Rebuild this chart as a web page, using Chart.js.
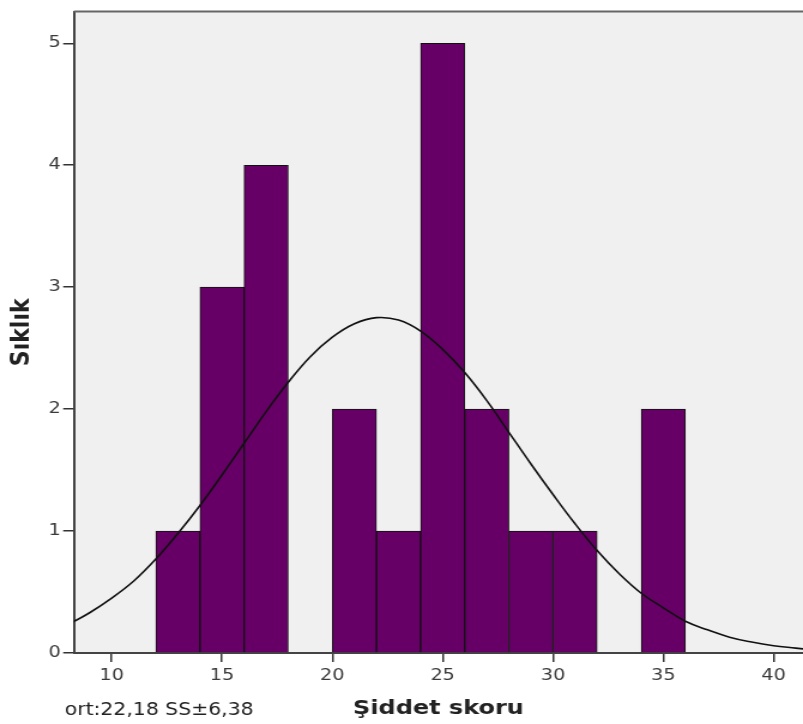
<!DOCTYPE html>
<html>
<head>
<meta charset="utf-8">
<script src="https://cdn.jsdelivr.net/npm/chart.js@4/dist/chart.umd.min.js"></script>
<style>
  html, body { margin: 0; padding: 0; background: #fff; overflow: hidden; }
  #wrap { width: 670px; height: 724px; transform: scaleX(1.1985); transform-origin: 0 0; }
</style>
</head>
<body>
<div id="wrap"><canvas id="grafico" width="670" height="724"></canvas></div>
<script>
// histogram bins (centres of 2-wide bins) and counts
const binCentres = [13, 15, 17, 19, 21, 23, 25, 27, 29, 31, 33, 35];
const counts = [1, 3, 4, 0, 2, 1, 5, 2, 1, 1, 0, 2];

// normal curve
const curveX = [8, 9, 10, 11, 12, 13, 14, 15, 16, 17, 18, 19, 20, 21, 22, 23, 24, 25,
    26, 27, 28, 29, 30, 31, 32, 33, 34, 35, 36, 37, 38, 39, 40, 41, 42];
const curveY = [0.23, 0.33, 0.45, 0.59, 0.77, 0.98, 1.21, 1.46, 1.72, 1.98, 2.22, 2.43,
    2.59, 2.70, 2.75, 2.73, 2.64, 2.49, 2.30, 2.07, 1.81, 1.55, 1.30, 1.06, 0.84, 0.65,
    0.49, 0.37, 0.26, 0.19, 0.13, 0.09, 0.06, 0.04, 0.02];

const xTicks = [10, 15, 20, 25, 30, 35, 40];
const yTicks = [0, 1, 2, 3, 4, 5];

const fonte = 'DejaVu Sans';

const fundoPlot = {
    id: 'fundoPlot',
    beforeDraw(chart) {
        const {ctx, chartArea: a} = chart;
        ctx.save();
        ctx.fillStyle = '#f0f0f0';
        ctx.fillRect(a.left, a.top, a.right - a.left, a.bottom - a.top);
        ctx.restore();
    },
    afterDraw(chart) {
        const {ctx, chartArea: a} = chart;
        ctx.save();
        ctx.strokeStyle = '#666';
        ctx.lineWidth = 2;
        ctx.beginPath();
        ctx.moveTo(a.left, a.top);
        ctx.lineTo(a.right, a.top);
        ctx.stroke();
        ctx.fillStyle = '#222';
        ctx.font = '17px "' + fonte + '"';
        ctx.textBaseline = 'alphabetic';
        ctx.fillText('ort:22,18 SS±6,38', 54, 715);
        ctx.restore();
    }
};

const ctx = document.getElementById('grafico').getContext('2d');
new Chart(ctx, {
    type: 'bar',
    data: {
        datasets: [{
            type: 'line',
            data: curveX.map((x, i) => ({x: x, y: curveY[i]})),
            borderColor: '#111',
            borderWidth: 1.6,
            pointRadius: 0,
            tension: 0.4,
            fill: false,
            clip: 0
        }, {
            type: 'bar',
            data: binCentres.map((x, i) => ({x: x, y: counts[i]})),
            backgroundColor: '#660066',
            borderColor: '#111',
            borderWidth: 1,
            barPercentage: 1,
            categoryPercentage: 1
        }]
    },
    options: {
        responsive: false,
        animation: false,
        layout: { padding: { top: 11, right: 0, left: 0, bottom: 0 } },
        plugins: {
            legend: { display: false },
            tooltip: { enabled: false }
        },
        scales: {
            x: {
                type: 'linear',
                min: 8.29,
                max: 41.33,
                offset: false,
                afterBuildTicks: s => { s.ticks = xTicks.map(v => ({value: v})); },
                afterFit: s => { s.height = 71; },
                grid: { display: true, drawOnChartArea: false, drawTicks: true, tickLength: 9, color: '#333', lineWidth: 1.5, offset: false },
                border: { display: true, color: '#444', width: 2 },
                ticks: { padding: 4, color: '#3a3a3a', font: { family: fonte, size: 16 }, maxRotation: 0 },
                title: { display: true, text: 'Şiddet skoru', color: '#222', font: { family: fonte, size: 20, weight: 'bold' }, padding: { bottom: 3, top: 0 } }
            },
            y: {
                min: 0,
                max: 5.26,
                afterBuildTicks: s => { s.ticks = yTicks.map(v => ({value: v})); },
                afterFit: s => { s.width = 61.7; },
                grid: { display: true, drawOnChartArea: false, drawTicks: true, tickLength: 9, color: '#333', lineWidth: 1.5 },
                border: { display: true, color: '#444', width: 2 },
                ticks: { padding: 2, color: '#3a3a3a', font: { family: fonte, size: 16 } },
                title: { display: true, text: 'Sıklık', color: '#222', font: { family: fonte, size: 22, weight: 'bold' }, padding: { top: 5, bottom: 0 } }
            }
        }
    },
    plugins: [fundoPlot]
});
</script>
</body>
</html>
